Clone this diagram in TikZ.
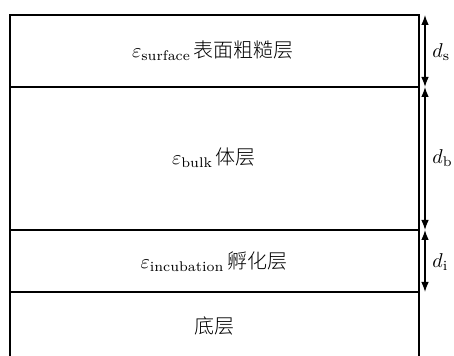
\documentclass[tikz,border=0pt]{standalone}
\usepackage{fontspec}
\newfontfamily\cjk{Noto Sans CJK SC Light}
\usetikzlibrary{arrows.meta}
\begin{document}
\begin{tikzpicture}[x=0.5pt,y=-0.5pt,
  layer/.style={line width=0.65pt},
  dim/.style={line width=0.65pt,{Latex[length=5pt,width=3.8pt]}-{Latex[length=5pt,width=3.8pt]}},
  lbl/.style={font=\fontsize{10}{12}\selectfont,inner sep=0pt}]
\useasboundingbox (0,0) rectangle (454,356);
\coordinate (tl) at (10,15);
\coordinate (tr) at (419,15);
\coordinate (bl) at (10,356);
\coordinate (br) at (419,356);
\draw[layer] (bl) -- (tl) -- (tr) -- (br);
\coordinate (l1) at (10,87);  \coordinate (r1) at (419,87);
\coordinate (l2) at (10,230); \coordinate (r2) at (419,230);
\coordinate (l3) at (10,292); \coordinate (r3) at (419,292);
\draw[layer] (l1) -- (r1);
\draw[layer] (l2) -- (r2);
\draw[layer] (l3) -- (r3);
\node[lbl] (t1) at (213,51) {$\varepsilon_{\mathrm{surface}}$\hspace{1.5pt}{\cjk 表面粗糙层}};
\node[lbl] (t2) at (214,158) {$\varepsilon_{\mathrm{bulk}}$\hspace{1.5pt}{\cjk 体层}};
\node[lbl] (t3) at (214,262) {$\varepsilon_{\mathrm{incubation}}$\hspace{1.5pt}{\cjk 孵化层}};
\node[lbl] (t4) at (214,326) {\cjk 底层};
\coordinate (a0) at (425,15);
\coordinate (a1) at (425,87);
\coordinate (a2) at (425,230);
\coordinate (a3) at (425,292);
\draw[dim] (a0) -- (a1);
\draw[dim] (a1) -- (a2);
\draw[dim] (a2) -- (a3);
\node[lbl,anchor=west] (ds) at (432,52) {$d_{\mathrm{s}}$};
\node[lbl,anchor=west] (db) at (432,158) {$d_{\mathrm{b}}$};
\node[lbl,anchor=west] (di) at (432,262) {$d_{\mathrm{i}}$};
\end{tikzpicture}
\end{document}
